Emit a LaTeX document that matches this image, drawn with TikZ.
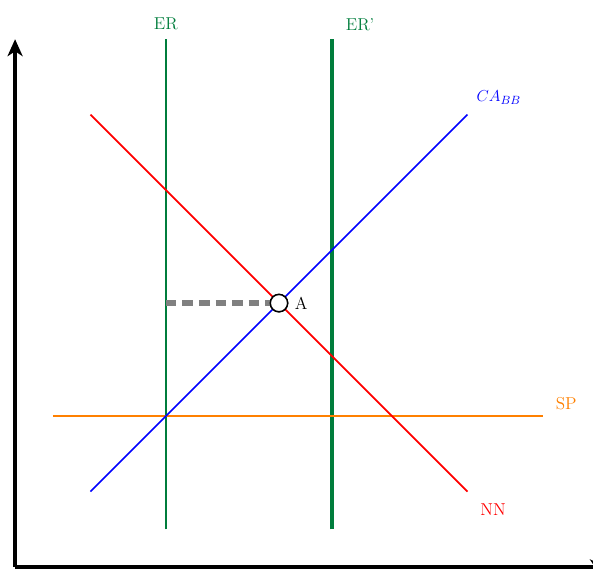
\documentclass[tikz,border=0pt]{standalone}
\usetikzlibrary{arrows.meta,positioning}
\definecolor{ergreen}{RGB}{0,125,60}
\definecolor{sporange}{RGB}{255,128,0}
\begin{document}
\begin{tikzpicture}[x=1cm,y=1cm,
  axis/.style={line width=2.4pt,-{Stealth[length=4.5mm,width=4mm,inset=1.3mm]}},
  curve/.style={line width=1.25pt},
  lbl/.style={font=\fontsize{13}{15}\selectfont},
  ptA/.style={circle,draw=black,fill=white,line width=1.1pt,minimum size=0.46cm,inner sep=0pt}]
\useasboundingbox (-0.4,-0.05) rectangle (15.33,15.04);
% axes
\coordinate (O) at (0,0);
\coordinate (Ytop) at (0,14);
\coordinate (Xend) at (15.7,0);
\draw[axis] (O) -- (Ytop);
\draw[axis] (O) -- (Xend);
% ER lines
\coordinate (er1) at (4,1);
\coordinate (er2) at (4,14);
\coordinate (erp1) at (8.4,1);
\coordinate (erp2) at (8.4,14);
\draw[ergreen,curve] (er1) -- (er2);
\node[lbl,ergreen,above=0.12cm of er2] (erlab) {ER};
\draw[ergreen,line width=3.2pt] (erp1) -- (erp2);
\node[lbl,ergreen,above right=0.1cm and 0.25cm of erp2] (erplab) {ER'};
% SP
\coordinate (sp1) at (1,4);
\coordinate (sp2) at (14,4);
\draw[sporange,curve] (sp1) -- (sp2);
\node[lbl,sporange,above right=0.05cm and 0.22cm of sp2] (splab) {SP};
% NN
\coordinate (nn1) at (2,12);
\coordinate (nn2) at (12,2);
\draw[red,curve] (nn1) -- (nn2);
\node[lbl,red,below right=0.2cm and 0.22cm of nn2] (nnlab) {NN};
% CA
\coordinate (ca1) at (2,2);
\coordinate (ca2) at (12,12);
\draw[blue,curve] (ca1) -- (ca2);
\node[lbl,blue,above right=0.15cm and 0.12cm of ca2] (calab) {$CA_{BB}$};
% point A
\coordinate (dstart) at (4,7);
\node[ptA] (A) at (7,7) {};
\draw[gray,line width=4pt,dash pattern=on 8pt off 4.5pt] (dstart) -- (A.west);
\node[ptA] at (A) {};
\node[lbl,right=0.05cm of A] (Alab) {A};
\end{tikzpicture}
\end{document}
